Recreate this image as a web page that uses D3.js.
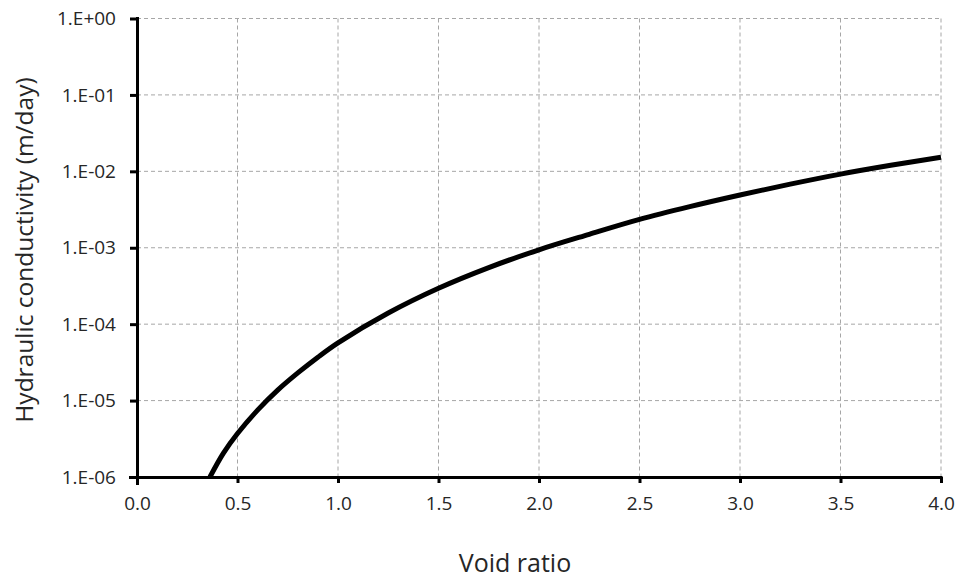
<!DOCTYPE html>
<html>
<head>
<meta charset="utf-8">
<script src="https://cdn.jsdelivr.net/npm/d3@7"></script>
<style>
  html, body { margin: 0; padding: 0; background: #fff; }
  svg { display: block; }
</style>
</head>
<body>
<svg id="chart" width="961" height="580"></svg>
<script>
// Data
const voidRatio = [0.363, 0.43, 0.5, 0.6, 0.7, 0.8, 0.9, 1.0, 1.25, 1.5, 1.75, 2.0, 2.25, 2.5, 2.75, 3.0, 3.25, 3.5, 3.75, 4.0];
const conductivity = [1.0e-6, 2.05e-6, 3.7e-6, 7.5e-6, 1.37e-5, 2.3e-5, 3.7e-5, 5.7e-5, 1.4e-4, 2.95e-4, 5.5e-4, 9.4e-4, 1.5e-3, 2.35e-3, 3.45e-3, 4.9e-3, 6.8e-3, 9.2e-3, 1.2e-2, 1.53e-2];
const xTicks = [0.0, 0.5, 1.0, 1.5, 2.0, 2.5, 3.0, 3.5, 4.0];
const yTicks = [1e-6, 1e-5, 1e-4, 1e-3, 1e-2, 1e-1, 1];
const yTickLabels = ["1.E-06", "1.E-05", "1.E-04", "1.E-03", "1.E-02", "1.E-01", "1.E+00"];
const xTitle = "Void ratio";
const yTitle = "Hydraulic conductivity (m/day)";

(function () {
const svg = d3.select("#chart");
const pLeft = 137, pRight = 941, pTop = 18.5, pBottom = 477;
const font = "'Open Sans', 'Liberation Sans', sans-serif";
const textColor = "#262626";

const x = d3.scaleLinear().domain([0, 4]).range([pLeft, pRight]);
const y = d3.scaleLog().domain([1e-6, 1]).range([pBottom, pTop]);

// Gridlines
const grid = svg.append("g");
grid.selectAll("line.v").data(xTicks.slice(1)).enter().append("line")
  .attr("x1", d => x(d)).attr("x2", d => x(d))
  .attr("y1", pTop).attr("y2", pBottom)
  .attr("stroke", "#a6a6a6").attr("stroke-width", 1).attr("stroke-dasharray", "4,3");
grid.selectAll("line.h").data(yTicks.slice(1)).enter().append("line")
  .attr("x1", pLeft).attr("x2", pRight)
  .attr("y1", d => y(d)).attr("y2", d => y(d))
  .attr("stroke", "#a6a6a6").attr("stroke-width", 1).attr("stroke-dasharray", "4,3");

// Curve
const clipId = "plotclip";
svg.append("clipPath").attr("id", clipId).append("rect")
  .attr("x", pLeft).attr("y", pTop - 5).attr("width", pRight - pLeft + 5).attr("height", pBottom - pTop + 5);
const pts = voidRatio.map((v, i) => [v, conductivity[i]]);
const line = d3.line().x(d => x(d[0])).y(d => y(d[1])).curve(d3.curveCatmullRom.alpha(0.5));
svg.append("path").datum(pts)
  .attr("d", line)
  .attr("fill", "none").attr("stroke", "#000").attr("stroke-width", 5)
  .attr("stroke-linecap", "butt")
  .attr("clip-path", `url(#${clipId})`);

// Axes
const xAxis = d3.axisBottom(x).tickValues(xTicks).tickFormat(d3.format(".1f")).tickSize(6).tickPadding(14);
const yAxis = d3.axisLeft(y).tickValues(yTicks).tickFormat((d, i) => yTickLabels[i]).tickSize(7).tickPadding(14);

const gx = svg.append("g").attr("transform", `translate(0,${pBottom})`).call(xAxis);
const gy = svg.append("g").attr("transform", `translate(${pLeft},0)`).call(yAxis);
[gx, gy].forEach(g => {
  g.select(".domain").attr("stroke", "#000").attr("stroke-width", 3);
  g.selectAll(".tick line").attr("stroke", "#000").attr("stroke-width", 3);
  g.selectAll(".tick text").attr("fill", textColor).style("font-family", font).style("font-size", "19px");
});
gx.select(".domain").attr("d", `M${pLeft - 8},0.5H${pRight + 1.5}`);
gy.select(".domain").attr("d", `M0.5,${pTop - 1.5}V${pBottom + 8}`);

// Titles
svg.append("text").text(xTitle)
  .attr("x", 515).attr("y", 572)
  .attr("text-anchor", "middle").attr("fill", textColor)
  .style("font-family", font).style("font-size", "25px");
svg.append("text").text(yTitle)
  .attr("transform", `translate(33,250) rotate(-90)`)
  .attr("text-anchor", "middle").attr("fill", textColor)
  .style("font-family", font).style("font-size", "24.5px");
})();
</script>
</body>
</html>
